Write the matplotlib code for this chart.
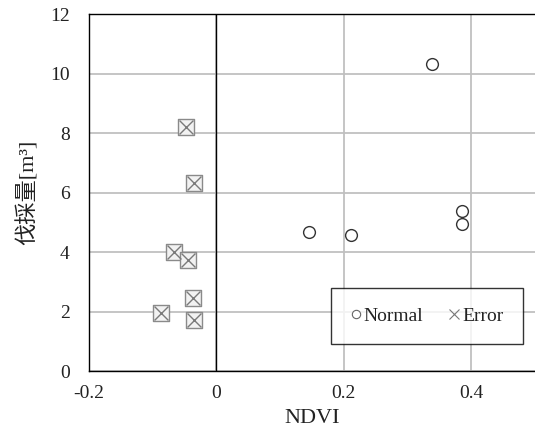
import numpy as np
import matplotlib
matplotlib.use('Agg')
from matplotlib import pyplot as plt
from matplotlib.lines import Line2D

plt.rcParams['font.family'] = ['Liberation Serif', 'Noto Sans CJK JP']

# data
normal_x = [0.145, 0.211, 0.338, 0.385, 0.385]
normal_y = [4.66, 4.56, 10.33, 5.37, 4.95]
error_x = [-0.048, -0.036, -0.066, -0.045, -0.037, -0.087, -0.035]
error_y = [8.22, 6.31, 4.01, 3.73, 2.46, 1.95, 1.72]
xticks = [-0.2, 0, 0.2, 0.4]
xtick_labels = ['-0.2', '0', '0.2', '0.4']
yticks = [0, 2, 4, 6, 8, 10, 12]

fig = plt.figure(figsize=(5.35, 4.32), dpi=100)
ax = fig.add_axes([0.1664, 0.141, 0.8336, 0.8264])

ax.set_xlim(-0.2, 0.5)
ax.set_ylim(0, 12)
ax.set_xticks(xticks)
ax.set_xticklabels(xtick_labels)
ax.set_yticks(yticks)
ax.tick_params(length=0, labelsize=14, colors='#222222')
ax.tick_params(axis='y', pad=14)
ax.tick_params(axis='x', pad=10)
ax.grid(True, color='#c0c0c0', lw=1.3)
ax.set_axisbelow(True)
ax.axvline(0, color='black', lw=1.0, zorder=1.5)
for s in ['left', 'bottom', 'top']:
    ax.spines[s].set_color('black')
    ax.spines[s].set_linewidth(1.0)
ax.spines['right'].set_visible(False)

ax.scatter(normal_x, normal_y, s=72, facecolors='white', edgecolors='#333333',
           linewidths=1.0, zorder=3)
ax.scatter(error_x, error_y, marker='s', s=120, facecolors='#f2f2f2',
           edgecolors='#8a8a8a', linewidths=1.0, zorder=3)
ax.scatter(error_x, error_y, marker='x', s=100, color='#7a7a7a',
           linewidths=1.0, zorder=4)

ax.set_xlabel('NDVI', fontsize=16, labelpad=5, color='#222222')
ax.set_ylabel('伐採量[m³]', fontsize=16, labelpad=8, color='#222222')

handles = [
    Line2D([], [], ls='none', marker='o', ms=6, mfc='white', mec='#666666', mew=0.8),
    Line2D([], [], ls='none', marker='x', ms=7, color='#777777', mew=0.8),
]
leg = ax.legend(handles, ['Normal', 'Error'], ncol=2, loc='lower right',
                bbox_to_anchor=(0.973, 0.075), fontsize=14, frameon=True,
                fancybox=False, edgecolor='black', handlelength=0.6,
                handletextpad=0.1, columnspacing=1.3, borderpad=1.0,
                borderaxespad=0)
leg.get_frame().set_linewidth(1.0)
for t in leg.get_texts():
    t.set_color('#222222')

fig.savefig('out.png', dpi=100)
